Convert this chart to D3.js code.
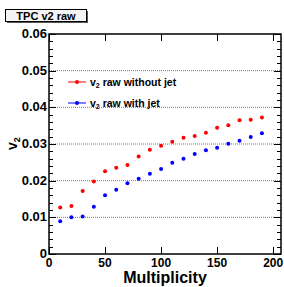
<!DOCTYPE html>
<html>
<head>
<meta charset="utf-8">
<script src="https://cdn.jsdelivr.net/npm/d3@7"></script>
<style>
  body { margin: 0; background: #fff; }
  svg text { font-family: "Liberation Sans", Arial, sans-serif; font-weight: bold; }
</style>
</head>
<body>
<svg id="chart" width="284" height="287"></svg>
<script>
var multiplicity = [10, 20, 30, 40, 50, 60, 70, 80, 90, 100, 110, 120, 130, 140, 150, 160, 170, 180, 190];
var v2WithoutJet = [0.0127, 0.0131, 0.0172, 0.0198, 0.0226, 0.0235, 0.0243, 0.0266, 0.0284, 0.0295,
                    0.0306, 0.0317, 0.0322, 0.0331, 0.0344, 0.0351, 0.0365, 0.0366, 0.0372];
var v2WithJet    = [0.0089, 0.0100, 0.0102, 0.0129, 0.0160, 0.0175, 0.0193, 0.0205, 0.0219, 0.0232,
                    0.0249, 0.0260, 0.0273, 0.0283, 0.0290, 0.0301, 0.0309, 0.0319, 0.0329];
var xTicks = [0, 50, 100, 150, 200];
var yTicks = [0, 0.01, 0.02, 0.03, 0.04, 0.05, 0.06];

var svg = d3.select('#chart'),
    margin = {top: 34, right: 3, bottom: 33, left: 49};
var width  = 284 - margin.left - margin.right;
var height = 287 - margin.top - margin.bottom;
var canvas = svg.append("g").attr("transform", "translate(" + margin.left + "," + margin.top + ")");

var x = d3.scaleLinear().domain([0, 207]).range([0, width]);
var y = d3.scaleLinear().domain([0, 0.06]).range([height, 0]);

// dotted grid on major y ticks
canvas.selectAll(".grid")
    .data(yTicks.slice(1, -1))
  .enter().append("line")
    .attr("x1", 0).attr("x2", width)
    .attr("y1", function(d) { return y(d); })
    .attr("y2", function(d) { return y(d); })
    .attr("stroke", "#777")
    .attr("stroke-width", 1)
    .attr("stroke-dasharray", "1,1");

// y minor ticks every 0.002
var yMinor = d3.range(0, 0.0601, 0.002);
[0, width].forEach(function(px, i) {
  var dir = i == 0 ? 1 : -1;
  canvas.append("g").selectAll("line")
      .data(yMinor)
    .enter().append("line")
      .attr("x1", px)
      .attr("x2", function(d, j) { return px + dir * (j % 5 == 0 ? 7 : 4); })
      .attr("y1", function(d) { return Math.round(y(d)) + 0.5; })
      .attr("y2", function(d) { return Math.round(y(d)) + 0.5; })
      .attr("stroke", "#000");
});

// x ticks bottom and top
[height, 0].forEach(function(py, i) {
  var dir = i == 0 ? -1 : 1;
  canvas.append("g").selectAll("line")
      .data(xTicks)
    .enter().append("line")
      .attr("x1", function(d) { return Math.round(x(d)) + 0.5; })
      .attr("x2", function(d) { return Math.round(x(d)) + 0.5; })
      .attr("y1", py)
      .attr("y2", py + dir * 7)
      .attr("stroke", "#000");
});

// frame
canvas.append("rect")
    .attr("x", 0).attr("y", 0)
    .attr("width", width).attr("height", height)
    .attr("fill", "none")
    .attr("stroke", "#000")
    .attr("stroke-width", 1.5);

// tick labels
canvas.selectAll(".xlab")
    .data(xTicks)
  .enter().append("text")
    .attr("x", function(d) { return x(d); })
    .attr("y", height + 13)
    .attr("text-anchor", "middle")
    .attr("font-size", 12)
    .text(function(d) { return d; });

canvas.selectAll(".ylab")
    .data(yTicks)
  .enter().append("text")
    .attr("x", -2)
    .attr("y", function(d) { return y(d) + 4; })
    .attr("text-anchor", "end")
    .attr("font-size", 13)
    .text(function(d) { return d == 0 ? "0" : d3.format(".2f")(d); });

// axis titles
svg.append("text")
    .attr("x", 165).attr("y", 283)
    .attr("text-anchor", "middle")
    .attr("font-size", 16)
    .text("Multiplicity");

var yt = svg.append("text")
    .attr("transform", "translate(17,150) rotate(-90)")
    .attr("font-size", 14);
yt.append("tspan").text("v");
yt.append("tspan").attr("font-size", 9).attr("dy", 3).text("2");

// data points
var series = [
  {vals: v2WithoutJet, color: "#f00", label: "raw without jet", ly: 82},
  {vals: v2WithJet,    color: "#00f", label: "raw with jet",    ly: 103}
];

series.forEach(function(s) {
  canvas.append("g").selectAll("circle")
      .data(multiplicity)
    .enter().append("circle")
      .attr("cx", function(d) { return x(d); })
      .attr("cy", function(d, i) { return y(s.vals[i]); })
      .attr("r", 2)
      .attr("fill", s.color);

  // legend
  svg.append("line")
      .attr("x1", 68).attr("x2", 86)
      .attr("y1", s.ly).attr("y2", s.ly)
      .attr("stroke", s.color);
  svg.append("circle")
      .attr("cx", 77).attr("cy", s.ly).attr("r", 2)
      .attr("fill", s.color);
  var t = svg.append("text")
      .attr("x", 90).attr("y", s.ly + 4)
      .attr("font-size", 10.5);
  t.append("tspan").text("v");
  t.append("tspan").attr("font-size", 7).attr("dy", 2).text("2");
  t.append("tspan").attr("dy", -2).text(" " + s.label);
});

// title box
svg.append("rect")
    .attr("x", 7).attr("y", 11).attr("width", 81).attr("height", 12)
    .attr("fill", "#555");
svg.append("rect")
    .attr("x", 5.5).attr("y", 9.5).attr("width", 81).attr("height", 12)
    .attr("fill", "#f4f4f4")
    .attr("stroke", "#000");
svg.append("text")
    .attr("x", 46).attr("y", 19.5)
    .attr("text-anchor", "middle")
    .attr("font-size", 11)
    .text("TPC v2 raw");
</script>
</body>
</html>
